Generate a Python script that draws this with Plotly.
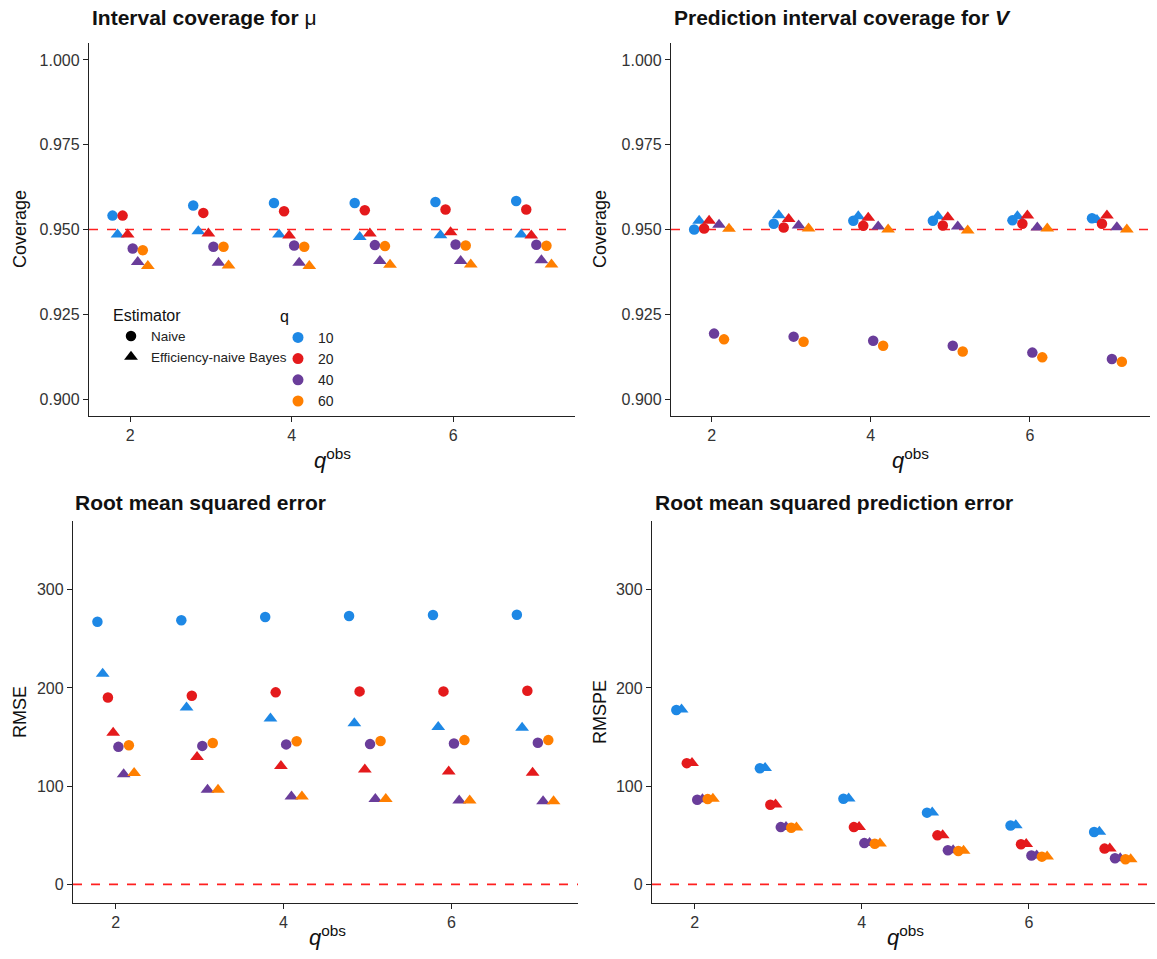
import plotly.graph_objects as go

W, H = 1157, 959

qobs = [2, 3, 4, 5, 6, 7]
q_levels = ["10", "20", "40", "60"]
colors = {"10": "#1E88E5", "20": "#E41A1C", "40": "#6A3D9A", "60": "#FF7F00"}
estimators = ["Naive", "Efficiency-naive Bayes"]
symbols = {"Naive": "circle", "Efficiency-naive Bayes": "triangle-up"}
sizes = {"Naive": 10.5, "Efficiency-naive Bayes": 12}

# Interval coverage for mu
cov_mu_naive = {
    "10": [0.9541, 0.9571, 0.9578, 0.9578, 0.9581, 0.9584],
    "20": [0.9541, 0.9549, 0.9554, 0.9557, 0.9559, 0.9559],
    "40": [0.9444, 0.9449, 0.9453, 0.9454, 0.9456, 0.9455],
    "60": [0.9439, 0.9449, 0.9449, 0.9451, 0.9453, 0.9452],
}
cov_mu_eb = {
    "10": [0.9485, 0.9495, 0.9485, 0.9478, 0.9483, 0.9485],
    "20": [0.9485, 0.9488, 0.9482, 0.9488, 0.9492, 0.9482],
    "40": [0.9404, 0.9402, 0.9402, 0.9407, 0.9407, 0.9409],
    "60": [0.9392, 0.9394, 0.9392, 0.9396, 0.9397, 0.9397],
}
# Prediction interval coverage for V
cov_v_naive = {
    "10": [0.9500, 0.9517, 0.9526, 0.9526, 0.9527, 0.9533],
    "20": [0.9503, 0.9506, 0.9511, 0.9512, 0.9517, 0.9517],
    "40": [0.9193, 0.9184, 0.9172, 0.9157, 0.9137, 0.9118],
    "60": [0.9176, 0.9169, 0.9157, 0.9140, 0.9123, 0.9110],
}
cov_v_eb = {
    "10": [0.9526, 0.9542, 0.9539, 0.9539, 0.9539, 0.9528],
    "20": [0.9526, 0.9531, 0.9535, 0.9536, 0.9541, 0.9541],
    "40": [0.9514, 0.9512, 0.9509, 0.9509, 0.9506, 0.9507],
    "60": [0.9502, 0.9503, 0.9500, 0.9497, 0.9503, 0.9500],
}
# RMSE
rmse_naive = {
    "10": [267.4, 268.9, 272.3, 273.3, 274.3, 274.6],
    "20": [190.3, 192.0, 195.5, 196.5, 196.5, 197.2],
    "40": [140.0, 141.0, 142.5, 142.8, 143.5, 144.1],
    "60": [141.7, 144.0, 145.8, 146.0, 146.9, 146.9],
}
rmse_eb = {
    "10": [214.4, 180.0, 168.8, 164.0, 160.2, 159.5],
    "20": [154.4, 129.7, 120.5, 117.0, 115.0, 113.7],
    "40": [112.0, 96.3, 89.4, 87.0, 85.3, 84.6],
    "60": [113.3, 96.3, 89.4, 87.0, 85.3, 84.6],
}
# RMSPE
rmspe_naive = {
    "10": [177.6, 118.3, 87.2, 73.0, 60.0, 53.3],
    "20": [123.4, 81.1, 58.3, 49.9, 40.8, 36.4],
    "40": [86.2, 58.3, 42.0, 34.7, 29.3, 26.5],
    "60": [86.8, 57.7, 41.4, 34.0, 28.2, 25.5],
}
rmspe_eb = {
    "10": [178.0, 118.6, 87.4, 73.2, 60.2, 53.5],
    "20": [123.6, 81.3, 58.5, 50.0, 41.0, 36.5],
    "40": [86.6, 58.5, 42.2, 34.8, 29.4, 26.6],
    "60": [87.2, 57.9, 41.5, 34.1, 28.3, 25.6],
}

ref_cov = 0.95
ref_err = 0

FONT = "Liberation Sans, Arial, Helvetica, sans-serif"

def px_x(p):
    return p / W

def px_y(p):
    return 1 - p / H

# panels: (xaxis id, yaxis id, x px range, y px range)
panels = [
    ("x", "y", (89, 575), (43, 416)),
    ("x2", "y2", (671, 1150), (43, 416)),
    ("x3", "y3", (73, 578), (521, 903)),
    ("x4", "y4", (652, 1155), (521, 903)),
]
panel_data = [
    (cov_mu_naive, cov_mu_eb),
    (cov_v_naive, cov_v_eb),
    (rmse_naive, rmse_eb),
    (rmspe_naive, rmspe_eb),
]

fig = go.Figure()

for (xa, ya, _, _), (nv, eb) in zip(panels, panel_data):
    for q in q_levels:
        for est, src in zip(estimators, (nv, eb)):
            fig.add_trace(go.Scatter(
                x=qobs, y=src[q], xaxis=xa, yaxis=ya, mode="markers",
                offsetgroup=f"{q}-{est}",
                marker=dict(symbol=symbols[est], color=colors[q],
                            size=sizes[est], line=dict(width=0)),
                showlegend=False, hoverinfo="x+y",
            ))

# legend entries
for est in estimators:
    fig.add_trace(go.Scatter(
        x=[None], y=[None], mode="markers", name=est, legend="legend",
        marker=dict(symbol=symbols[est], color="black", size=sizes[est]),
    ))
for q in q_levels:
    fig.add_trace(go.Scatter(
        x=[None], y=[None], mode="markers", name=q, legend="legend2",
        marker=dict(symbol="circle", color=colors[q], size=11),
    ))

axis_common = dict(
    showline=True, linecolor="#222", linewidth=1.3, ticks="outside",
    ticklen=5, tickwidth=1.3, tickcolor="#222", showgrid=False, zeroline=False,
    tickfont=dict(family=FONT, size=16, color="#333"), automargin=False,
)

layout = dict(
    width=W, height=H, margin=dict(l=0, r=0, t=0, b=0),
    plot_bgcolor="white", paper_bgcolor="white",
    scattermode="group", scattergap=0.5,
    font=dict(family=FONT),
)

for i, (xa, ya, (x0, x1), (y0, y1)) in enumerate(panels):
    xk = "xaxis" if xa == "x" else "xaxis" + xa[1:]
    yk = "yaxis" if ya == "y" else "yaxis" + ya[1:]
    layout[xk] = dict(axis_common, domain=[px_x(x0), px_x(x1)], range=[1.49, 7.51],
                      tickvals=[2, 4, 6], anchor=ya)
    if i < 2:
        layout[yk] = dict(axis_common, domain=[px_y(y1), px_y(y0)], range=[0.895, 1.005],
                          tickvals=[0.900, 0.925, 0.950, 0.975, 1.000], tickformat=".3f",
                          anchor=xa)
    else:
        layout[yk] = dict(axis_common, domain=[px_y(y1), px_y(y0)], range=[-19, 370],
                          tickvals=[0, 100, 200, 300], anchor=xa)

layout["legend"] = dict(
    x=px_x(111), y=px_y(300), xanchor="left", yanchor="top",
    bgcolor="rgba(0,0,0,0)", itemwidth=30,
    title=dict(text="Estimator", font=dict(family=FONT, size=16, color="#111")),
    font=dict(family=FONT, size=13.5, color="#222"),
)
layout["legend2"] = dict(
    x=px_x(278), y=px_y(301), xanchor="left", yanchor="top",
    bgcolor="rgba(0,0,0,0)", itemwidth=30,
    title=dict(text="q", font=dict(family=FONT, size=16, color="#111")),
    font=dict(family=FONT, size=14, color="#222"),
)

fig.update_layout(**layout)

# reference lines
for i, (xa, ya, _, _) in enumerate(panels):
    yv = ref_cov if i < 2 else ref_err
    fig.add_shape(type="line", xref=f"{xa} domain", yref=ya, x0=0, x1=1, y0=yv, y1=yv,
                  line=dict(color="#FF2020", width=1.6, dash="dash"), layer="below")

annots = []
titles = [
    ("<b>Interval coverage for </b>μ", 90, 18),
    ("<b>Prediction interval coverage for <i>V</i></b>", 672, 18),
    ("<b>Root mean squared error</b>", 73, 502),
    ("<b>Root mean squared prediction error</b>", 653, 502),
]
for t, x, y in titles:
    annots.append(dict(text=t, x=px_x(x), y=px_y(y), xref="paper", yref="paper",
                       xanchor="left", yanchor="middle", showarrow=False,
                       font=dict(family=FONT, size=21, color="#111")))
ytitles = [("Coverage", 20, 229), ("Coverage", 600, 229), ("RMSE", 20, 712), ("RMSPE", 600, 712)]
for t, x, y in ytitles:
    annots.append(dict(text=t, x=px_x(x), y=px_y(y), xref="paper", yref="paper",
                       xanchor="center", yanchor="middle", showarrow=False, textangle=-90,
                       font=dict(family=FONT, size=18, color="#111")))
xtitles = [(332, 459), (910, 459), (327, 936), (905, 936)]
for x, y in xtitles:
    annots.append(dict(text="<i>q</i><sup>obs</sup>", x=px_x(x), y=px_y(y), xref="paper",
                       yref="paper", xanchor="center", yanchor="middle", showarrow=False,
                       font=dict(family=FONT, size=22, color="#111")))
fig.update_layout(annotations=annots)

fig.write_html(
    "out.html",
    config={"displayModeBar": False},
    post_script="document.body.style.margin='0';document.body.style.overflow='hidden';",
)
